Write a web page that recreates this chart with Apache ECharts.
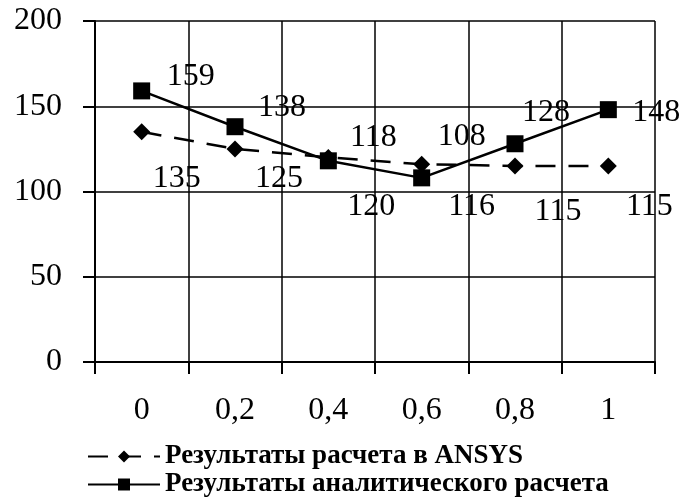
<!DOCTYPE html>
<html><head><meta charset="utf-8">
<script src="https://cdn.jsdelivr.net/npm/echarts@6/dist/echarts.min.js"></script>
<style>html,body{margin:0;padding:0;background:#fff}#c{width:682px;height:499px}</style>
</head><body><div id="c"></div>
<script>
const categories = ['0', '0,2', '0,4', '0,6', '0,8', '1'];
const ansysValues = [135, 125, 120, 116, 115, 115];
const analyticValues = [159, 138, 118, 108, 128, 148];
const yTicks = {min: 0, max: 200, interval: 50};
const seriesNames = ['Результаты расчета в ANSYS', 'Результаты аналитического расчета'];

// label placement (style, not data)
const ansysLabelOffsets = [[35,47],[44,30],[43,49],[50,42],[43,46],[41,41]];
const analyticLabelOffsets = [[49,-14],[47,-19],[45,-23],[40,-41],[31,-31],[48,3]];

const FONT = '"Liberation Serif", "DejaVu Serif", serif';
const chart = echarts.init(document.getElementById('c'), null, {renderer: 'canvas'});

function mk(values, offsets) {
  return values.map((v, i) => ({value: v, label: {offset: offsets[i]}}));
}

chart.setOption({
  animation: false,
  backgroundColor: '#fff',
  textStyle: {fontFamily: FONT, color: '#000'},
  grid: {left: 95, right: 27, top: 21, bottom: 137},
  legend: {
    orient: 'vertical', left: 87, top: 443, bottom: 0, padding: 0, itemGap: 1,
    itemWidth: 72, itemHeight: 15,
    textStyle: {fontFamily: FONT, fontSize: 27, fontWeight: 'bold', color: '#000', lineHeight: 24},
    data: seriesNames
  },
  xAxis: {
    type: 'category', data: categories, boundaryGap: true,
    axisLine: {lineStyle: {color: '#000', width: 2}},
    axisTick: {show: true, inside: false, length: 12, lineStyle: {color: '#000', width: 2}},
    axisLabel: {fontFamily: FONT, fontSize: 32, color: '#000', margin: 33},
    splitLine: {show: true, lineStyle: {color: '#000', width: 1.5}}
  },
  yAxis: {
    type: 'value', min: yTicks.min, max: yTicks.max, interval: yTicks.interval,
    axisLine: {show: true, lineStyle: {color: '#000', width: 2}},
    axisTick: {show: true, inside: false, length: 12, lineStyle: {color: '#000', width: 2}},
    axisLabel: {fontFamily: FONT, fontSize: 32, color: '#000', margin: 33},
    splitLine: {show: true, lineStyle: {color: '#000', width: 1.5}}
  },
  series: [
    {
      name: seriesNames[0], type: 'line', data: mk(ansysValues, ansysLabelOffsets),
      symbol: 'diamond', symbolSize: 17,
      itemStyle: {color: '#000'},
      lineStyle: {color: '#000', width: 2.5, type: [20, 13]},
      label: {show: true, position: 'inside', fontFamily: FONT, fontSize: 32, color: '#000'},
      z: 3
    },
    {
      name: seriesNames[1], type: 'line', data: mk(analyticValues, analyticLabelOffsets),
      symbol: 'rect', symbolSize: 17,
      itemStyle: {color: '#000'},
      lineStyle: {color: '#000', width: 2.5},
      label: {show: true, position: 'inside', fontFamily: FONT, fontSize: 32, color: '#000'},
      z: 4
    }
  ]
});
</script></body></html>
